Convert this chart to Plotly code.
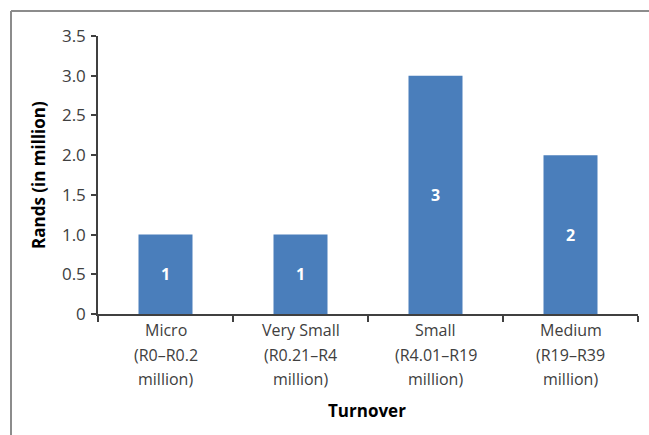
import plotly.graph_objects as go

categories = ["Micro", "Very Small", "Small", "Medium"]
category_lines = [
    ["Micro", "(R0\u2013R0.2", "million)"],
    ["Very Small", "(R0.21\u2013R4", "million)"],
    ["Small", "(R4.01\u2013R19", "million)"],
    ["Medium", "(R19\u2013R39", "million)"],
]
values = [1, 1, 3, 2]
y_ticks = [0, 0.5, 1.0, 1.5, 2.0, 2.5, 3.0, 3.5]
y_title = "Rands (in million)"
x_title = "Turnover"

W, H = 649, 435
L, R, T, B = 98, 11, 36, 121
pw, ph = W - L - R, H - T - B

FONT = "Open Sans"
TXT = "#404040"

fig = go.Figure()
fig.add_trace(go.Bar(
    x=categories, y=values,
    marker=dict(color="#4A7EBB", line=dict(width=0)),
    width=0.40,
    text=[str(v) for v in values],
    textposition="inside", insidetextanchor="middle",
    textfont=dict(family=FONT, size=16, color="white", weight="bold"),
    hoverinfo="skip",
))

annotations = []
line_y0 = 330
for cat, lines in zip(categories, category_lines):
    for i, ln in enumerate(lines):
        yp = line_y0 + i * 24.5
        annotations.append(dict(
            x=cat, xref="x", y=(T + ph - yp) / ph, yref="paper",
            text=ln, showarrow=False, xanchor="center", yanchor="middle",
            font=dict(family=FONT, size=16, color=TXT),
        ))
annotations.append(dict(
    x=(367 - L) / pw, xref="paper", y=(T + ph - 410) / ph, yref="paper",
    text="<b>" + x_title + "</b>", showarrow=False, xanchor="center", yanchor="middle",
    font=dict(family=FONT, size=17, color="black"),
))
annotations.append(dict(
    x=(38 - L) / pw, xref="paper", y=(T + ph - 175) / ph, yref="paper",
    text="<b>" + y_title + "</b>", showarrow=False, textangle=-90,
    xanchor="center", yanchor="middle",
    font=dict(family=FONT, size=17, color="black"),
))

# outer chart frame (top and left edges visible)
bx = (11 - L) / pw
by = (T + ph - 11) / ph
shapes = [
    dict(type="line", xref="paper", yref="paper", x0=bx, x1=(W - L) / pw + 0.05, y0=by, y1=by,
         line=dict(color="#8C8C8C", width=2)),
    dict(type="line", xref="paper", yref="paper", x0=bx, x1=bx, y0=by, y1=-B / ph - 0.05,
         line=dict(color="#8C8C8C", width=2)),
]

fig.update_layout(
    width=W, height=H,
    margin=dict(l=L, r=R, t=T, b=B),
    paper_bgcolor="white", plot_bgcolor="white",
    showlegend=False,
    annotations=annotations,
    shapes=shapes,
    xaxis=dict(
        type="category", range=[-0.5, 3.5],
        showticklabels=False, showgrid=False, zeroline=False,
        showline=True, linecolor="#404040", linewidth=1.5,
        ticks="outside", tickmode="array", tickvals=[-0.5, 0.5, 1.5, 2.5, 3.5],
        ticklen=6, tickcolor="#404040", tickwidth=1.5,
    ),
    yaxis=dict(
        range=[0, 3.5], tickvals=y_ticks,
        ticktext=[f"{v:.1f}" if v else "0" for v in y_ticks],
        showgrid=False, zeroline=False,
        showline=True, linecolor="#404040", linewidth=1.5,
        ticks="outside", ticklen=5, tickcolor="#404040", tickwidth=1.5,
        tickfont=dict(family=FONT, size=17, color=TXT),
        ticklabelstandoff=2,
    ),
)

fig.write_html("out.html")
